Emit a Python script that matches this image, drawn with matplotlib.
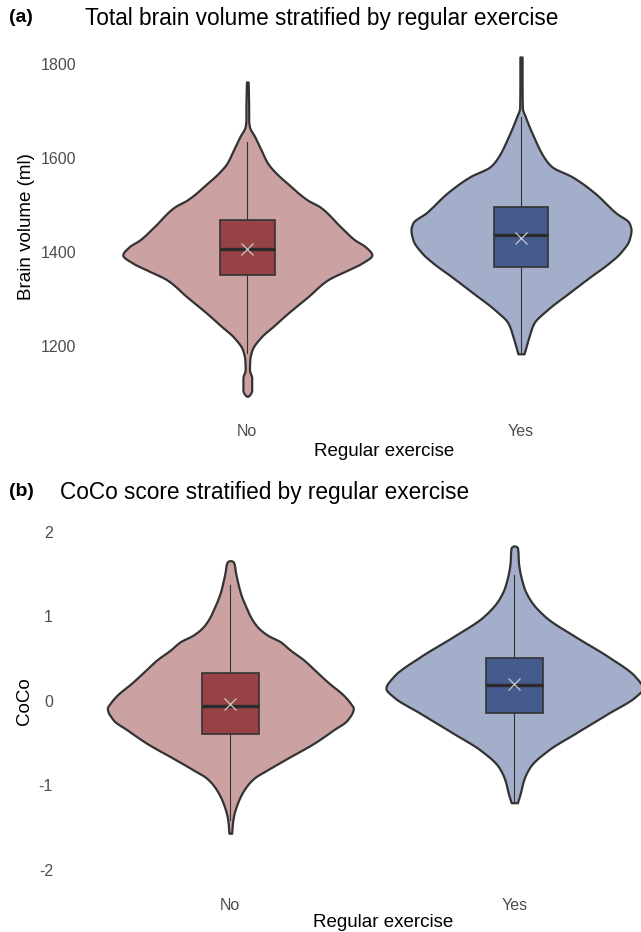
import matplotlib
matplotlib.use("Agg")
import matplotlib.pyplot as plt
import numpy as np

plt.rcParams['font.family'] = ['Liberation Sans', 'DejaVu Sans']

categories = ["No", "Yes"]

# ---------------- Panel (a): total brain volume (ml) ----------------
a_no_vals = [1761, 1740, 1700, 1680, 1666, 1645, 1616, 1588, 1567, 1546, 1510, 1496, 1454, 1426,
             1411, 1394, 1376, 1362, 1341, 1305, 1270, 1242, 1220, 1192, 1171, 1150, 1133, 1107, 1099, 1094]
a_no_hw = [0.003, 0.004, 0.005, 0.005, 0.008, 0.027, 0.051, 0.075, 0.106, 0.146, 0.221, 0.265, 0.340, 0.392,
           0.432, 0.455, 0.417, 0.368, 0.294, 0.221, 0.148, 0.094, 0.051, 0.017, 0.009, 0.008, 0.016, 0.016, 0.011, 0.003]
a_yes_vals = [1814, 1760, 1706, 1687, 1645, 1602, 1581, 1560, 1525, 1483, 1462, 1447, 1426, 1398,
              1377, 1347, 1313, 1277, 1249, 1220, 1198, 1184]
a_yes_hw = [0.004, 0.004, 0.005, 0.016, 0.046, 0.083, 0.113, 0.186, 0.270, 0.347, 0.395, 0.402, 0.395, 0.362,
            0.322, 0.252, 0.175, 0.095, 0.047, 0.029, 0.018, 0.011]
# box stats: whisker low, Q1, median, Q3, whisker high, mean
a_stats = {"No": [1185, 1351, 1406, 1468, 1633, 1407],
           "Yes": [1184, 1369, 1436, 1496, 1687, 1429]}
a_yticks = [1200, 1400, 1600, 1800]

# ---------------- Panel (b): CoCo score ----------------
b_no_vals = [1.655, 1.64, 1.506, 1.270, 1.072, 0.993, 0.875, 0.777, 0.697, 0.599, 0.481, 0.363, 0.206, 0.067,
             -0.031, -0.090, -0.228, -0.346, -0.504, -0.681, -0.819, -0.917, -1.056, -1.213, -1.371, -1.47, -1.567]
b_no_hw = [0.004, 0.011, 0.019, 0.036, 0.060, 0.071, 0.095, 0.130, 0.176, 0.211, 0.259, 0.297, 0.348, 0.398,
           0.423, 0.433, 0.412, 0.363, 0.294, 0.201, 0.130, 0.083, 0.048, 0.025, 0.011, 0.007, 0.005]
b_yes_vals = [1.829, 1.81, 1.624, 1.348, 1.190, 0.993, 0.757, 0.520, 0.284, 0.147, 0.047, -0.149, -0.385,
              -0.583, -0.780, -0.937, -1.095, -1.206]
b_yes_hw = [0.004, 0.011, 0.015, 0.033, 0.056, 0.109, 0.215, 0.331, 0.426, 0.452, 0.426, 0.331, 0.215,
            0.120, 0.056, 0.033, 0.021, 0.011]
b_stats = {"No": [-1.41, -0.397, -0.059, 0.324, 1.37, -0.039],
           "Yes": [-1.20, -0.149, 0.186, 0.508, 1.486, 0.194]}
b_yticks = [-2, -1, 0, 1, 2]

violin_fill = {"No": "#CCA1A1", "Yes": "#A3AFCA"}
box_fill = {"No": "#974345", "Yes": "#455B8E"}
outline = "#333333"
tick_col = "#4D4D4D"

W, H = 641, 932
fig = plt.figure(figsize=(W / 100, H / 100), dpi=100)


def smooth_outline(v, w, n=400):
    """Monotone cubic (Fritsch-Carlson) curve through the read outline points, for drawing only."""
    order = np.argsort(v)
    x = np.asarray(v, float)[order]
    y = np.asarray(w, float)[order]
    h = np.diff(x)
    d = np.diff(y) / h
    m = np.zeros_like(y)
    m[0], m[-1] = d[0], d[-1]
    for k in range(1, len(x) - 1):
        if d[k - 1] * d[k] > 0:
            w1 = 2 * h[k] + h[k - 1]
            w2 = h[k] + 2 * h[k - 1]
            m[k] = (w1 + w2) / (w1 / d[k - 1] + w2 / d[k])
    xs = np.linspace(x[0], x[-1], n)
    idx = np.clip(np.searchsorted(x, xs) - 1, 0, len(x) - 2)
    t = (xs - x[idx]) / h[idx]
    h00 = 2 * t ** 3 - 3 * t ** 2 + 1
    h10 = t ** 3 - 2 * t ** 2 + t
    h01 = -2 * t ** 3 + 3 * t ** 2
    h11 = t ** 3 - t ** 2
    ys = h00 * y[idx] + h10 * h[idx] * m[idx] + h01 * y[idx + 1] + h11 * h[idx] * m[idx + 1]
    return xs, np.maximum(ys, 0.002)


def draw_panel(rect, profiles, stats, yticks, ylim):
    ax = fig.add_axes(rect)
    for i, cat in enumerate(categories):
        c = i + 1
        vals, hw = profiles[cat]
        vs, ws = smooth_outline(vals, hw)
        ax.fill_betweenx(vs, c - ws, c + ws, facecolor=violin_fill[cat], edgecolor=outline,
                         linewidth=1.6, zorder=2)
        lo, q1, med, q3, hi, mean = stats[cat]
        ax.plot([c, c], [lo, q1], color="#333333", lw=0.8, zorder=3)
        ax.plot([c, c], [q3, hi], color="#333333", lw=0.8, zorder=3)
        bw = 0.1
        ax.add_patch(plt.Rectangle((c - bw, q1), 2 * bw, q3 - q1, facecolor=box_fill[cat],
                                   edgecolor="#333333", lw=1.2, zorder=4))
        ax.plot([c - bw, c + bw], [med, med], color="#2B2B2B", lw=2.4, zorder=5, solid_capstyle="butt")
        ax.plot([c], [mean], marker="x", markersize=9, mew=0.9, color="#C9C9C9", zorder=6)
    ax.set_xlim(0.4, 2.6)
    ax.set_ylim(*ylim)
    ax.set_xticks([1, 2])
    ax.set_xticklabels(categories)
    ax.set_yticks(yticks)
    ax.set_yticklabels([str(t) for t in yticks])
    for s in ax.spines.values():
        s.set_visible(False)
    ax.tick_params(length=0, labelsize=11.5, labelcolor=tick_col)
    ax.tick_params(axis="x", pad=8)
    ax.tick_params(axis="y", pad=5)
    return ax


def px_rect(left, right, top, bottom):
    return [left / W, 1 - bottom / H, (right - left) / W, (bottom - top) / H]


axa = draw_panel(px_rect(83.1, 685.2, 40.0, 413.2),
                 {"No": (a_no_vals, a_no_hw), "Yes": (a_yes_vals, a_yes_hw)},
                 a_stats, a_yticks, (1058, 1850))
axb = draw_panel(px_rect(59.9, 684.7, 514.6, 886.8),
                 {"No": (b_no_vals, b_no_hw), "Yes": (b_yes_vals, b_yes_hw)},
                 b_stats, b_yticks, (-2.2, 2.2))

# titles and axis labels
fig.text(9 / W, 1 - 18 / H, "(a)", fontsize=14, fontweight="bold", va="center", ha="left")
fig.text(85 / W, 1 - 18 / H, "Total brain volume stratified by regular exercise", fontsize=16.3,
         va="center", ha="left")
fig.text(9 / W, 1 - 492 / H, "(b)", fontsize=14, fontweight="bold", va="center", ha="left")
fig.text(60 / W, 1 - 492 / H, "CoCo score stratified by regular exercise", fontsize=16.3,
         va="center", ha="left")

fig.text(27 / W, 1 - 226.5 / H, "Brain volume (ml)", fontsize=13.5, rotation=90, va="center", ha="center")
fig.text(25 / W, 1 - 700.7 / H, "CoCo", fontsize=13.5, rotation=90, va="center", ha="center")
fig.text(384 / W, 1 - 452 / H, "Regular exercise", fontsize=13.5, va="center", ha="center")
fig.text(383 / W, 1 - 922.5 / H, "Regular exercise", fontsize=13.5, va="center", ha="center")

fig.savefig("out.png", dpi=100, facecolor="white")
